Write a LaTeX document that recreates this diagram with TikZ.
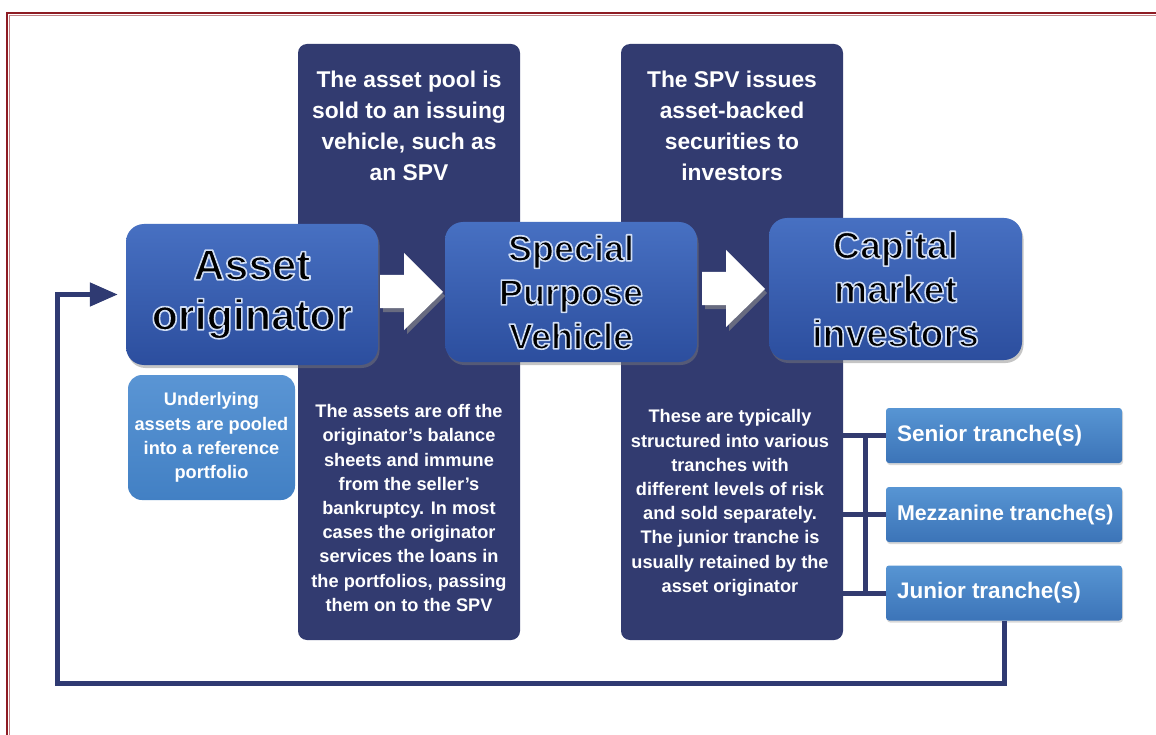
\documentclass[tikz,border=0pt]{standalone}
\usepackage{fontspec}
\setmainfont{Liberation Sans}
\usetikzlibrary{shadows,arrows.meta,calc}
\definecolor{navy}{HTML}{323B70}
\definecolor{fbline}{HTML}{2F3A72}
\definecolor{boxtop}{HTML}{4770C2}
\definecolor{boxbot}{HTML}{2C4E9E}
\definecolor{trtop}{HTML}{5795D3}
\definecolor{trbot}{HTML}{3C74B8}
\definecolor{undtop}{HTML}{5A95D4}
\definecolor{undbot}{HTML}{4280C4}
\definecolor{frame}{HTML}{8E1C24}
\tikzset{
  column/.style={fill=navy, rounded corners=9pt},
  mainbox/.style={rounded corners=18pt, top color=boxtop, bottom color=boxbot,
     drop shadow={opacity=0.45, shadow xshift=1.5pt, shadow yshift=-3pt}},
  tranche/.style={rounded corners=3pt, top color=trtop, bottom color=trbot,
     drop shadow={opacity=0.3, shadow xshift=1pt, shadow yshift=-2pt}},
  undbox/.style={rounded corners=14pt, top color=undtop, bottom color=undbot},
  coltext/.style={text=white, font=\bfseries, align=center, inner sep=0pt},
  maintext/.style={text=black, font=\bfseries, align=center, inner sep=0pt},
  trtext/.style={text=white, font=\bfseries\fontsize{22.5}{24}\selectfont, anchor=west, inner sep=0pt},
  connline/.style={draw=navy, line width=5pt},
  fb/.style={draw=fbline, line width=5pt},
  whitearrow/.style={fill=white},
  arrowshadow/.style={fill=black!45, opacity=0.6},
}
\newcommand{\glowon}{\special{pdf:literal direct 2 Tr 1.6 w 1 j 0.82 0.87 0.96 RG}}
\newcommand{\glowoff}{\special{pdf:literal direct 0 Tr 0 G}}
\begin{document}
\begin{tikzpicture}[x=1pt,y=-1pt]
\useasboundingbox (0,0) rectangle (1156,735);
\fill[white] (0,0) rectangle (1156,735);
% frame
\draw[frame, line width=2.5pt] (7,780) -- (7,13) -- (1190,13);
\draw[frame!55, line width=1pt] (9.5,780) -- (9.5,15.5) -- (1190,15.5);

% dark columns
\node[column, minimum width=222pt, minimum height=596pt, inner sep=0pt] (col1) at (409,342) {};
\node[column, minimum width=222pt, minimum height=596pt, inner sep=0pt] (col2) at (732,342) {};

% column texts
\node[coltext, font=\bfseries\fontsize{22.8}{31}\selectfont] (t1) at (409,126)
  {The asset pool is\\sold to an issuing\\vehicle, such as\\an SPV};
\node[coltext, font=\bfseries\fontsize{22.8}{31}\selectfont] (t2) at (732,126)
  {The SPV issues\\asset-backed\\securities to\\investors};
\node[coltext, font=\bfseries\fontsize{18.2}{24.2}\selectfont] (t3) at (409,508)
  {The assets are off the\\originator's balance\\sheets and immune\\from the seller's\\bankruptcy. In most\\cases the originator\\services the loans in\\the portfolios, passing\\them on to the SPV};
\node[coltext, font=\bfseries\fontsize{18.2}{24.2}\selectfont] (t4) at (730,503)
  {These are typically\\structured into various\\tranches with\\different levels of risk\\and sold separately.\\The junior tranche is\\usually retained by the\\asset originator};

% main boxes
\node[mainbox, minimum width=252pt, minimum height=141pt, inner sep=0pt] (ao) at (252,294.5) {};
\node[mainbox, minimum width=252pt, minimum height=140pt, inner sep=0pt] (spv) at (571,292) {};
\node[mainbox, minimum width=253pt, minimum height=142pt, inner sep=0pt] (cmi) at (895.5,289) {};
\node[maintext, font=\bfseries\fontsize{43}{50}\selectfont] at (ao.center)
  {\glowon Asset\glowoff\\\glowon originator\glowoff};
\node[maintext, font=\bfseries\fontsize{36}{44}\selectfont] at (spv.center)
  {\glowon Special\glowoff\\\glowon Purpose\glowoff\\\glowon Vehicle\glowoff};
\node[maintext, font=\bfseries\fontsize{37.5}{44}\selectfont] at (cmi.center)
  {\glowon Capital\glowoff\\\glowon market\glowoff\\\glowon investors\glowoff};

% white arrows
\foreach \dx/\dy in {0/0, 322/-3}{
  \begin{scope}[shift={(\dx,\dy)}]
    \fill[arrowshadow] (383,279) -- (407,279) -- (407,257) -- (445,296) -- (407,334) -- (407,312) -- (383,312) -- cycle;
    \fill[whitearrow] (380,275) -- (404,275) -- (404,253) -- (443,292) -- (404,330) -- (404,308) -- (380,308) -- cycle;
  \end{scope}
}

% underlying box
\node[undbox, minimum width=167pt, minimum height=125pt, inner sep=0pt] (und) at (211.5,437.5) {};
\node[coltext, font=\bfseries\fontsize{18.2}{24.2}\selectfont] at (und.center)
  {Underlying\\assets are pooled\\into a reference\\portfolio};

% tranche boxes
\node[tranche, minimum width=236pt, minimum height=55pt, inner sep=0pt] (sen) at (1004,435.5) {};
\node[tranche, minimum width=236pt, minimum height=55pt, inner sep=0pt] (mez) at (1004,514.5) {};
\node[tranche, minimum width=236pt, minimum height=55pt, inner sep=0pt] (jun) at (1004,593) {};
\node[trtext] at ([xshift=11pt]sen.west) {Senior tranche(s)};
\node[trtext, font=\bfseries\fontsize{21.4}{24}\selectfont] at ([xshift=11pt]mez.west) {Mezzanine tranche(s)};
\node[trtext] at ([xshift=11pt]jun.west) {Junior tranche(s)};

% connectors to tranches
\coordinate (bus) at (865,0);
\foreach \t in {sen,mez,jun}{
  \draw[connline] (col2.east |- \t.west) -- (\t.west);
}
\draw[connline] (bus |- sen.west) -- (bus |- jun.west);

% feedback line
\draw[fb, -{Triangle[length=28pt,width=23pt]}, shorten >=8pt]
  (jun.south) |- (57,683) |- (ao.west);
\end{tikzpicture}
\end{document}
